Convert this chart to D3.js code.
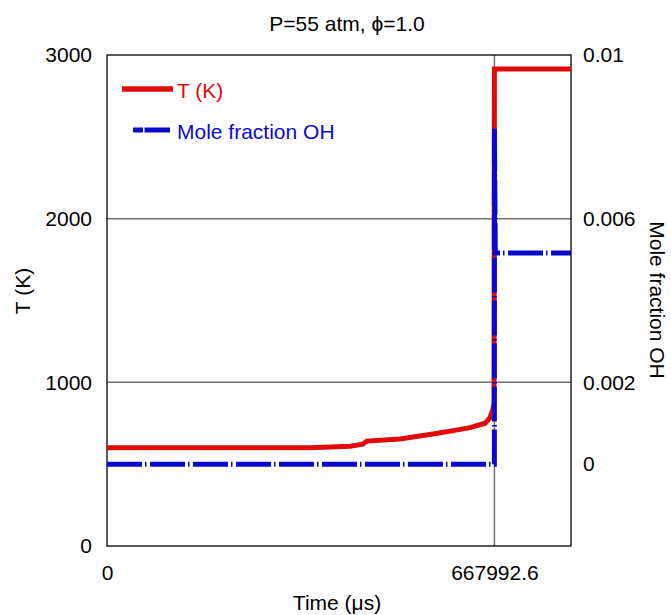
<!DOCTYPE html>
<html>
<head>
<meta charset="utf-8">
<script src="https://cdn.jsdelivr.net/npm/d3@7"></script>
<style>
    body { margin: 0; background: #fff; }
    #chart-area text { font-family: "Liberation Sans", Arial, sans-serif; }
</style>
</head>
<body>
<div id="chart-area"></div>
<script>

// Temperature trace (time in microseconds, T in K)
const tempTime = [0, 350000, 419000, 441000, 448000, 505000, 562000, 597000, 626000, 652000, 660000, 665000, 667300, 667992.6, 800000];
const tempK = [600, 600, 610, 622, 641, 654, 684, 705, 723, 750, 782, 831, 872, 2915, 2915];

// OH mole fraction trace
const ohTime = [0, 667900, 667992.6, 669500, 800000];
const ohFrac = [0, 0, 0.0082, 0.00516, 0.00516];

// axis ticks
const timeTicks = [0, 667992.6];
const tempTicks = [0, 1000, 2000, 3000];
const ohTicks = [0, 0.002, 0.006, 0.01];

const redColor = "#e00a0a";
const blueColor = "#0a0acc";
const gridColor = "#707070";


class IgnitionChart {

    constructor(_parentElement) {
        this.parentElement = _parentElement;
        this.initVis();
    }

    initVis() {
        let vis = this;

        vis.margin = { top: 55, right: 100, bottom: 69, left: 107 };
        vis.width = 671 - vis.margin.left - vis.margin.right;
        vis.height = 615 - vis.margin.top - vis.margin.bottom;

        vis.root = d3.select("#" + vis.parentElement).append("svg")
            .attr("width", 671)
            .attr("height", 615);

        vis.svg = vis.root.append("g")
            .attr("transform", "translate(" + vis.margin.left + "," + vis.margin.top + ")");

        // scales
        vis.x = d3.scaleLinear().domain([0, 800000]).range([0, vis.width]);
        vis.yT = d3.scaleLinear().domain([0, 3000]).range([vis.height, 0]);
        vis.yOH = d3.scaleLinear().domain([-0.002, 0.01]).range([vis.height, 0]);

        // gridlines
        vis.svg.selectAll(".hgrid")
            .data(tempTicks.filter(d => d > 0 && d < 3000))
            .enter().append("line")
            .attr("class", "hgrid")
            .attr("x1", 0)
            .attr("x2", vis.width)
            .attr("y1", d => vis.yT(d))
            .attr("y2", d => vis.yT(d))
            .attr("stroke", gridColor)
            .attr("stroke-width", 1.5);

        vis.svg.selectAll(".vgrid")
            .data(timeTicks.filter(d => d > 0))
            .enter().append("line")
            .attr("class", "vgrid")
            .attr("x1", d => vis.x(d))
            .attr("x2", d => vis.x(d))
            .attr("y1", 0)
            .attr("y2", vis.height)
            .attr("stroke", gridColor)
            .attr("stroke-width", 1.5);

        // plot border
        vis.svg.append("rect")
            .attr("width", vis.width)
            .attr("height", vis.height)
            .attr("fill", "none")
            .attr("stroke", "#000")
            .attr("stroke-width", 1.3);

        // axes
        let fmt = d => String(d);

        vis.svg.append("g")
            .attr("class", "axis")
            .call(d3.axisLeft(vis.yT).tickValues(tempTicks).tickSize(0).tickPadding(15).tickFormat(fmt));

        vis.svg.append("g")
            .attr("class", "axis")
            .attr("transform", "translate(" + vis.width + ",0)")
            .call(d3.axisRight(vis.yOH).tickValues(ohTicks).tickSize(0).tickPadding(12).tickFormat(fmt));

        vis.svg.append("g")
            .attr("class", "axis")
            .attr("transform", "translate(0," + vis.height + ")")
            .call(d3.axisBottom(vis.x).tickValues(timeTicks).tickSize(0).tickPadding(19).tickFormat(fmt));

        vis.svg.selectAll(".axis").select(".domain").remove();
        vis.svg.selectAll(".axis")
            .attr("font-family", null)
            .attr("font-size", 21)
            .selectAll("text").attr("fill", "#000");

        // titles
        vis.root.append("text")
            .attr("x", 347)
            .attr("y", 31)
            .attr("text-anchor", "middle")
            .attr("font-size", 21)
            .text("P=55 atm, \u03d5=1.0");

        vis.root.append("text")
            .attr("x", 337)
            .attr("y", 610)
            .attr("text-anchor", "middle")
            .attr("font-size", 21)
            .text("Time (\u03bcs)");

        vis.root.append("text")
            .attr("transform", "translate(30,291) rotate(-90)")
            .attr("text-anchor", "middle")
            .attr("font-size", 21)
            .text("T (K)");

        vis.root.append("text")
            .attr("transform", "translate(650,300) rotate(90)")
            .attr("text-anchor", "middle")
            .attr("font-size", 21)
            .text("Mole fraction OH");

        vis.wrangleData();
    }

    wrangleData() {
        let vis = this;

        vis.tempData = tempTime.map((t, i) => ({ t: t, v: tempK[i] }));
        vis.ohData = ohTime.map((t, i) => ({ t: t, v: ohFrac[i] }));

        vis.updateVis();
    }

    updateVis() {
        let vis = this;

        let tempLine = d3.line()
            .x(d => vis.x(d.t))
            .y(d => vis.yT(d.v));

        let ohLine = d3.line()
            .x(d => vis.x(d.t))
            .y(d => vis.yOH(d.v));

        vis.svg.append("path")
            .datum(vis.tempData)
            .attr("d", tempLine)
            .attr("fill", "none")
            .attr("stroke", redColor)
            .attr("stroke-width", 5);

        vis.svg.append("path")
            .datum(vis.ohData)
            .attr("d", ohLine)
            .attr("fill", "none")
            .attr("stroke", blueColor)
            .attr("stroke-width", 5)
            .attr("stroke-dasharray", "35,3,1.5,3.5");

        // legend
        let legend = vis.root.append("g");

        legend.append("line")
            .attr("x1", 122).attr("x2", 173)
            .attr("y1", 89).attr("y2", 89)
            .attr("stroke", redColor)
            .attr("stroke-width", 5.5);

        legend.append("text")
            .attr("x", 177)
            .attr("y", 98)
            .attr("font-size", 21)
            .attr("fill", redColor)
            .text("T (K)");

        legend.append("line")
            .attr("x1", 133).attr("x2", 170)
            .attr("y1", 130).attr("y2", 130)
            .attr("stroke", blueColor)
            .attr("stroke-width", 5)
            .attr("stroke-dasharray", "10,1.5,30");

        legend.append("text")
            .attr("x", 177)
            .attr("y", 139)
            .attr("font-size", 21)
            .attr("fill", blueColor)
            .text("Mole fraction OH");
    }
}

new IgnitionChart("chart-area");

</script>
</body>
</html>
